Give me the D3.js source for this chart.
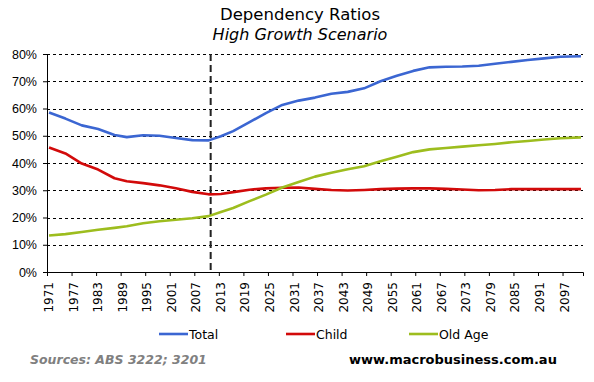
<!DOCTYPE html>
<html>
<head>
<meta charset="utf-8">
<script src="https://cdn.jsdelivr.net/npm/d3@7"></script>
<style>
  body { margin: 0; background: #fff; }
  svg { display: block; font-family: "DejaVu Sans", Verdana, sans-serif; }
</style>
</head>
<body>
<svg id="chart" width="594" height="382"></svg>
<script>
  // values (percent of working age population)
  var years = [1971, 1975, 1979, 1983, 1987, 1990, 1994, 1998, 2002, 2006, 2010, 2013, 2016, 2020, 2024, 2028, 2032,
               2036, 2040, 2044, 2048, 2052, 2056, 2060, 2064, 2068, 2072, 2076, 2080, 2084, 2088, 2092, 2096, 2101];
  var total = [58.5, 56.3, 53.8, 52.5, 50.3, 49.5, 50.2, 50.0, 49.2, 48.4, 48.3, 49.8, 51.7, 55.0, 58.3, 61.3, 62.9,
               64.0, 65.4, 66.1, 67.4, 70.0, 72.0, 73.8, 75.1, 75.3, 75.4, 75.7, 76.4, 77.1, 77.8, 78.4, 79.0, 79.2];
  var child = [45.7, 43.5, 39.8, 37.6, 34.4, 33.3, 32.6, 31.8, 30.7, 29.4, 28.5, 28.6, 29.3, 30.2, 30.7, 30.9, 31.0,
               30.5, 30.1, 29.9, 30.1, 30.4, 30.6, 30.7, 30.7, 30.5, 30.3, 30.0, 30.1, 30.4, 30.4, 30.4, 30.4, 30.4];
  var oldAge = [13.4, 13.9, 14.7, 15.5, 16.2, 16.8, 17.9, 18.6, 19.2, 19.7, 20.5, 22.0, 23.5, 26.0, 28.4, 31.0, 33.0,
                35.0, 36.4, 37.7, 38.8, 40.6, 42.3, 44.0, 45.0, 45.5, 46.0, 46.5, 47.0, 47.6, 48.1, 48.6, 49.1, 49.4];
  var seriesNames = ["Total", "Child", "Old Age"];
  var seriesColors = ["#3b66d2", "#d20a0a", "#9dbd1e"];
  var tickYears = d3.range(1971, 2098, 6);
  var yTicks = [0, 10, 20, 30, 40, 50, 60, 70, 80];
  var projectionStart = 2011;

  var svg = d3.select("#chart"),
      margin = {top: 54, right: 11, bottom: 110, left: 47},
      width = +svg.attr("width") - margin.left - margin.right,
      height = +svg.attr("height") - margin.top - margin.bottom;

  // category style x axis: one slot per year
  var x = d3.scaleLinear().domain([1970.5, 2101.5]).range([0, width]),
      y = d3.scaleLinear().domain([0, 80]).range([height, 0]);

  var g = svg.append("g")
      .attr("transform", "translate(" + margin.left + "," + margin.top + ")");

  // titles
  svg.append("text")
      .attr("x", 300).attr("y", 20)
      .attr("text-anchor", "middle")
      .style("font-size", "16.5px")
      .text("Dependency Ratios");
  svg.append("text")
      .attr("x", 300).attr("y", 40)
      .attr("text-anchor", "middle")
      .style("font-size", "16px").style("font-style", "italic")
      .text("High Growth Scenario");

  // gridlines
  g.append("g").selectAll("line")
      .data(yTicks.filter(function(d) { return d > 0; }))
    .enter().append("line")
      .attr("x1", 0).attr("x2", width)
      .attr("y1", function(d) { return Math.round(y(d)) + 0.5; })
      .attr("y2", function(d) { return Math.round(y(d)) + 0.5; })
      .attr("stroke", "#000").attr("stroke-width", 1)
      .attr("stroke-dasharray", "3,3");

  // y axis
  var yAxis = g.append("g")
      .call(d3.axisLeft(y).tickValues(yTicks).tickSize(4).tickPadding(6)
        .tickFormat(function(d) { return d + "%"; }));
  yAxis.selectAll("text").style("font-size", "12.5px").attr("fill", "#000");
  yAxis.select(".domain").attr("stroke", "#000");

  // x axis: ticks between categories, labels centred on them
  var xAxis = g.append("g")
      .attr("transform", "translate(0," + height + ")")
      .call(d3.axisBottom(x).tickValues(tickYears.map(function(d) { return d - 0.5; }))
        .tickSize(4).tickFormat(""));
  xAxis.select(".domain").attr("stroke", "#000");

  g.append("g").selectAll("text")
      .data(tickYears)
    .enter().append("text")
      .attr("transform", function(d) { return "translate(" + (x(d) + 4) + "," + (height + 10) + ") rotate(-90)"; })
      .attr("text-anchor", "end")
      .style("font-size", "12px")
      .text(function(d) { return d; });

  // projection marker
  g.append("line")
      .attr("x1", x(projectionStart - 0.5)).attr("x2", x(projectionStart - 0.5))
      .attr("y1", 0).attr("y2", height)
      .attr("stroke", "#222").attr("stroke-width", 2)
      .attr("stroke-dasharray", "7,4");

  // series lines
  var line = d3.line()
      .x(function(d) { return x(d[0]); })
      .y(function(d) { return y(d[1]); });

  [total, child, oldAge].forEach(function(vals, i) {
    g.append("path")
        .datum(years.map(function(yr, j) { return [yr, vals[j]]; }))
        .attr("fill", "none")
        .attr("stroke", seriesColors[i])
        .attr("stroke-width", 2.6)
        .attr("stroke-linejoin", "round")
        .attr("d", line);
  });

  // legend
  var legendX = [159, 286, 409];
  var legend = svg.append("g").selectAll("g")
      .data(seriesNames)
    .enter().append("g")
      .attr("transform", function(d, i) { return "translate(" + legendX[i] + ",334)"; });
  legend.append("line")
      .attr("x1", 0).attr("x2", 29)
      .attr("stroke", function(d, i) { return seriesColors[i]; })
      .attr("stroke-width", 2.6);
  legend.append("text")
      .attr("x", 30).attr("dy", "0.36em")
      .style("font-size", "12.5px")
      .text(function(d) { return d; });

  // footer
  svg.append("text")
      .attr("x", 30).attr("y", 364)
      .attr("fill", "#808080")
      .style("font-size", "12.5px").style("font-weight", "bold").style("font-style", "italic")
      .text("Sources: ABS 3222; 3201");
  svg.append("text")
      .attr("x", 349).attr("y", 364)
      .attr("fill", "#000")
      .style("font-size", "13px").style("font-weight", "bold")
      .text("www.macrobusiness.com.au");
</script>
</body>
</html>
